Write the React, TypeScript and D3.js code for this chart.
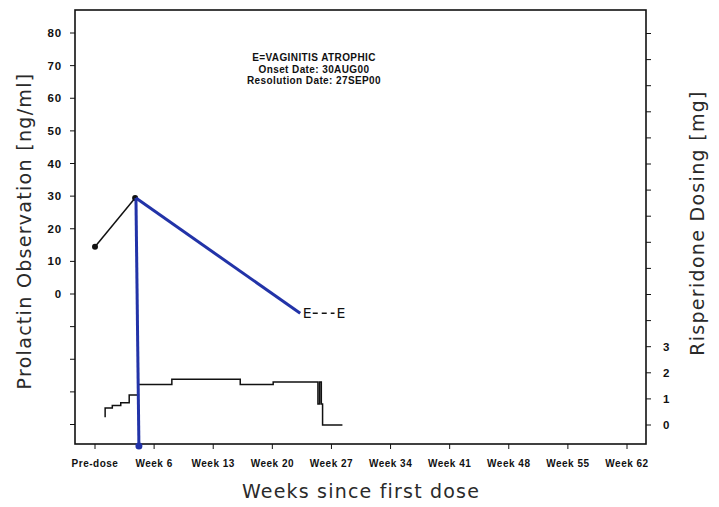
import React from "react";
import * as d3 from "d3";

const W = 719;
const H = 507;

// X axis categories (weeks since first dose; Pre-dose = week -1)
const xTickWeeks = [-1, 6, 13, 20, 27, 34, 41, 48, 55, 62];
const xTickLabels = ["Pre-dose", "Week 6", "Week 13", "Week 20", "Week 27", "Week 34", "Week 41", "Week 48", "Week 55", "Week 62"];

// Left axis ticks (prolactin), labelled only >= 0
const leftTicks = [80, 70, 60, 50, 40, 30, 20, 10, 0, -10, -20, -30, -40];
// Right axis ticks (dosing), labelled only 0..3
const rightTicks = d3.range(0, 16);
const rightLabelled = [0, 1, 2, 3];

// Prolactin observations
const prolactinWeeks = [-1, 3.75];
const prolactinValues = [14.5, 29.4];

// Blue annotation lines
const blueWeeks = [3.85, 23.3];
const blueValues = [29.4, -5.9];
const blueDropWeeks = [3.85, 4.2];

// Adverse event (E) onset / resolution
const eventWeeks = [23.6, 27.6];
const eventValue = -5.9;
const eventLabel = "E";
const annotationLines = ["E=VAGINITIS ATROPHIC", "Onset Date: 30AUG00", "Resolution Date: 27SEP00"];

// Risperidone dosing (step)
const doseWeeks = [0.2, 0.2, 1.05, 2.05, 3.05, 4.1, 8.1, 16.2, 20.1, 25.4, 25.6, 25.8, 25.95, 28.3];
const doseValues = [0.3, 0.65, 0.75, 0.85, 1.15, 1.55, 1.75, 1.55, 1.65, 0.8, 1.65, 0.8, 0, 0];

const frame = { left: 75, right: 646, top: 10, bottom: 444 };

export default function App() {
  const x = d3.scaleLinear().domain([-1, 62]).range([95, 627]);
  const yL = d3.scaleLinear().domain([0, 80]).range([294, 33]);
  const yR = d3.scaleLinear().domain([0, 15]).range([425, 33.5]);

  const prolLine = d3.line<number>().x((_, i) => x(prolactinWeeks[i])).y((v) => yL(v))(prolactinValues) || "";
  const blueLine = d3.line<number>().x((_, i) => x(blueWeeks[i])).y((v) => yL(v))(blueValues) || "";
  const doseLine =
    d3
      .line<number>()
      .x((_, i) => x(doseWeeks[i]))
      .y((v) => yR(v))
      .curve(d3.curveStepAfter)(doseValues) || "";

  const tickFont = "'Liberation Sans', Arial, sans-serif";
  const titleFont = "'DejaVu Sans', sans-serif";
  const blue = "#2233a8";

  return (
    <svg width={W} height={H} style={{ position: "absolute", left: 0, top: 0, background: "#fff" }}>
      <rect x={0} y={0} width={W} height={H} fill="#fff" />
      {/* frame */}
      <rect
        x={frame.left}
        y={frame.top}
        width={frame.right - frame.left}
        height={frame.bottom - frame.top}
        fill="none"
        stroke="#111"
        strokeWidth={1.6}
      />
      {/* left ticks */}
      {leftTicks.map((t) => (
        <g key={"l" + t}>
          <line x1={frame.left - 5} x2={frame.left} y1={yL(t)} y2={yL(t)} stroke="#111" strokeWidth={1} />
          {t >= 0 && (
            <text
              x={62}
              y={yL(t)}
              dy="0.35em"
              textAnchor="end"
              fontFamily={tickFont}
              fontWeight="bold"
              fontSize={11.5}
              letterSpacing={0.8}
              fill="#111"
            >
              {t}
            </text>
          )}
        </g>
      ))}
      {/* right ticks */}
      {rightTicks.map((t) => (
        <g key={"r" + t}>
          <line x1={frame.right} x2={frame.right + 5} y1={yR(t)} y2={yR(t)} stroke="#111" strokeWidth={1} />
          {rightLabelled.includes(t) && (
            <text
              x={663}
              y={yR(t)}
              dy="0.35em"
              textAnchor="start"
              fontFamily={tickFont}
              fontWeight="bold"
              fontSize={11.5}
              fill="#111"
            >
              {t}
            </text>
          )}
        </g>
      ))}
      {/* x ticks */}
      {xTickWeeks.map((w, i) => (
        <g key={"x" + w}>
          <line x1={x(w)} x2={x(w)} y1={frame.bottom} y2={frame.bottom + 5} stroke="#111" strokeWidth={1} />
          <text
            x={x(w)}
            y={467}
            textAnchor="middle"
            fontFamily={tickFont}
            fontWeight="bold"
            fontSize={10}
            letterSpacing={0.5}
            fill="#111"
          >
            {xTickLabels[i]}
          </text>
        </g>
      ))}
      {/* axis titles */}
      <text x={361} y={498} textAnchor="middle" fontFamily={titleFont} fontSize={19} letterSpacing={1.2} fill="#2a2a2a">
        Weeks since first dose
      </text>
      <text
        transform={`translate(31,${231}) rotate(-90)`}
        textAnchor="middle"
        fontFamily={titleFont}
        fontSize={19}
        letterSpacing={1.3}
        fill="#2a2a2a"
      >
        Prolactin Observation [ng/ml]
      </text>
      <text
        transform={`translate(704,${223}) rotate(-90)`}
        textAnchor="middle"
        fontFamily={titleFont}
        fontSize={19}
        letterSpacing={1.3}
        fill="#2a2a2a"
      >
        Risperidone Dosing [mg]
      </text>
      {/* annotation */}
      {annotationLines.map((s, i) => (
        <text
          key={s}
          x={314}
          y={61 + i * 11.5}
          textAnchor="middle"
          fontFamily={tickFont}
          fontWeight="bold"
          fontSize={10}
          letterSpacing={0.4}
          fill="#111"
        >
          {s}
        </text>
      ))}
      {/* dosing step */}
      <path d={doseLine} fill="none" stroke="#111" strokeWidth={1.5} />
      {/* prolactin */}
      <path d={prolLine} fill="none" stroke="#111" strokeWidth={1.5} />
      {prolactinValues.map((v, i) => (
        <circle key={"p" + i} cx={x(prolactinWeeks[i])} cy={yL(v)} r={3} fill="#111" />
      ))}
      {/* event */}
      <line
        x1={x(eventWeeks[0]) + 10}
        x2={x(eventWeeks[1]) - 2}
        y1={yL(eventValue)}
        y2={yL(eventValue)}
        stroke="#111"
        strokeWidth={1.3}
        strokeDasharray="5,4"
      />
      {eventWeeks.map((w, i) => (
        <text
          key={"e" + i}
          x={x(w)}
          y={yL(eventValue)}
          dy="0.36em"
          textAnchor="start"
          fontFamily={titleFont}
          fontSize={14}
          fill="#111"
        >
          {eventLabel}
        </text>
      ))}
      {/* blue annotation */}
      <path d={blueLine} fill="none" stroke={blue} strokeWidth={3} />
      <line
        x1={x(blueDropWeeks[0])}
        x2={x(blueDropWeeks[1])}
        y1={yL(blueValues[0])}
        y2={frame.bottom + 2}
        stroke={blue}
        strokeWidth={3}
      />
      <circle cx={x(blueDropWeeks[1])} cy={frame.bottom + 2} r={3.5} fill={blue} />
    </svg>
  );
}
